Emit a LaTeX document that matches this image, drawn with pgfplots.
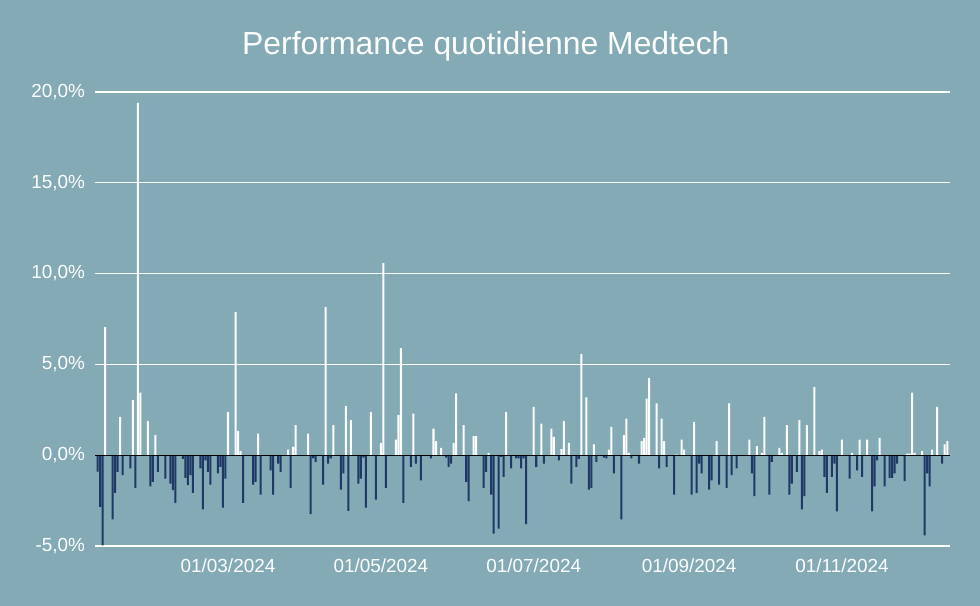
\documentclass[border=0pt]{standalone}
\usepackage{pgfplots}
\pgfplotsset{compat=1.18}
\usepackage{fontspec}
\setmainfont{Liberation Sans}
\definecolor{bgc}{RGB}{131,170,181}
\definecolor{navy}{RGB}{31,56,100}
\begin{document}
\begin{tikzpicture}
\fill[bgc] (0,0) rectangle (980bp,606bp);
\begin{axis}[
  at={(95bp,60bp)}, anchor=south west,
  width=855bp, height=454bp, scale only axis,
  xmin=6.93, xmax=348.1, ymin=-5, ymax=20,
  axis line style={draw=none}, tick style={draw=none},
  ymajorgrids, grid style={white, line width=1.3bp},
  ytick={-5,0,5,10,15,20},
  yticklabels={{-5,0\%},{0,0\%},{5,0\%},{10,0\%},{15,0\%},{20,0\%}},
  xtick={60,121,182,244,305},
  xticklabels={01/03/2024,01/05/2024,01/07/2024,01/09/2024,01/11/2024},
  ticklabel style={font=\fontsize{19}{22}\selectfont, text=white},
  yticklabel style={xshift=-6.5bp},
  xticklabel style={yshift=-5bp},
  ybar, bar width=0.8, bar shift=0pt,
  clip=true,
]
\addplot[fill=white, draw=none] coordinates {
(11,7.05)(17,2.11)(22,3.03)(24,19.4)(25,3.45)(28,1.87)(31,1.1)(60,2.39)(63,7.88)(64,1.34)(65,0.22)(72,1.19)(84,0.31)(86,0.46)(87,1.65)(92,1.19)(99,8.15)(102,1.65)(107,2.72)(109,1.93)(117,2.39)(121,0.68)(122,10.58)(127,0.86)(128,2.2)(129,5.9)(134,2.29)(142,1.47)(143,0.77)(145,0.4)(150,0.68)(151,3.4)(154,1.65)(158,1.05)(159,1.05)(164,0.13)(171,2.39)(182,2.66)(185,1.74)(189,1.47)(190,1.01)(193,0.33)(194,1.87)(196,0.68)(201,5.56)(203,3.18)(206,0.59)(212,0.31)(213,1.56)(218,1.1)(219,2.02)(220,0.13)(225,0.77)(226,0.95)(227,3.12)(228,4.26)(231,2.85)(233,2.02)(234,0.77)(239,0.04)(241,0.86)(242,0.31)(246,1.84)(255,0.77)(260,2.85)(268,0.86)(271,0.5)(273,0.13)(274,2.11)(280,0.4)(281,0.13)(283,1.65)(288,1.93)(291,1.65)(294,3.75)(296,0.22)(297,0.31)(305,0.86)(309,0.13)(312,0.86)(315,0.86)(320,0.95)(331,0.09)(332,0.09)(333,3.45)(334,0.13)(337,0.22)(341,0.31)(343,2.66)(346,0.59)(347,0.77)
};
\addplot[fill=navy, draw=none] coordinates {
(8,-0.9)(9,-2.85)(10,-4.96)(14,-3.53)(15,-2.07)(16,-0.92)(18,-1.1)(21,-0.73)(23,-1.8)(29,-1.71)(30,-1.47)(32,-0.92)(35,-1.29)(37,-1.56)(38,-1.93)(39,-2.63)(42,-0.2)(43,-1.25)(44,-1.65)(45,-1.1)(46,-2.07)(49,-0.73)(50,-2.99)(51,-0.28)(52,-0.92)(53,-1.62)(56,-1.0)(57,-0.64)(58,-2.88)(59,-1.29)(66,-2.63)(70,-1.62)(71,-1.47)(73,-2.17)(77,-0.83)(78,-2.17)(80,-0.46)(81,-0.92)(85,-1.8)(93,-3.25)(94,-0.18)(95,-0.37)(98,-1.62)(100,-0.46)(101,-0.18)(105,-1.89)(106,-1.0)(108,-3.07)(112,-1.56)(113,-1.29)(114,-0.13)(115,-2.88)(119,-2.44)(123,-1.8)(130,-2.63)(133,-0.64)(135,-0.46)(137,-1.38)(141,-0.18)(147,-0.13)(148,-0.64)(149,-0.46)(155,-1.47)(156,-2.53)(162,-1.8)(163,-0.92)(165,-2.17)(166,-4.32)(168,-4.04)(169,-0.09)(170,-1.19)(173,-0.73)(175,-0.18)(176,-0.18)(177,-0.73)(178,-0.18)(179,-3.8)(183,-0.64)(186,-0.46)(192,-0.28)(197,-1.56)(199,-0.64)(200,-0.2)(204,-1.89)(205,-1.8)(207,-0.37)(210,-0.13)(211,-0.18)(214,-1.0)(217,-3.54)(221,-0.18)(224,-0.46)(232,-0.73)(235,-0.64)(238,-2.17)(245,-2.17)(247,-2.07)(248,-0.46)(249,-1.0)(252,-1.89)(253,-1.38)(256,-1.62)(259,-1.8)(261,-1.1)(263,-0.73)(269,-1.0)(270,-2.26)(276,-2.17)(277,-0.37)(284,-2.17)(285,-1.56)(287,-0.92)(289,-2.99)(290,-2.26)(298,-1.19)(299,-2.07)(301,-1.19)(302,-0.46)(303,-3.09)(308,-1.29)(311,-0.83)(313,-1.19)(317,-3.09)(318,-1.71)(319,-0.28)(322,-1.71)(324,-1.25)(325,-1.25)(326,-1.0)(327,-0.46)(330,-1.43)(338,-4.41)(339,-1.0)(340,-1.71)(345,-0.46)
};
\draw[black, line width=1.3bp] (axis cs:6.93,0) -- (axis cs:348.1,0);
\end{axis}
\node[anchor=base west, text=white, font=\fontsize{32}{37}\selectfont, inner sep=0pt] at (242bp,551bp) {Performance quotidienne Medtech};
\end{tikzpicture}
\end{document}
